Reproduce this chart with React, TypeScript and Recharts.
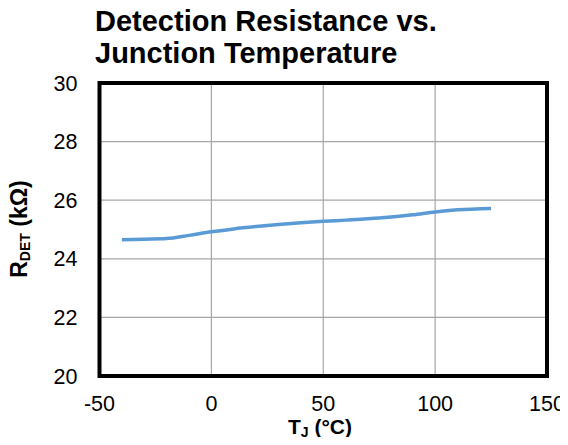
import React from 'react'
import {
  LineChart, Line, XAxis, YAxis, CartesianGrid, ReferenceArea,
} from 'recharts'

const temps = [-40, -30, -20, -10, 0, 10, 20, 30, 40, 50, 60, 75, 90, 100, 110, 125]
const rdet = [24.65, 24.67, 24.69, 24.8, 24.92, 25.02, 25.1, 25.17, 25.23, 25.28, 25.32, 25.39, 25.5, 25.6, 25.67, 25.72]
const xTicks = [-50, 0, 50, 100, 150]
const yTicks = [20, 22, 24, 26, 28, 30]

const data = temps.map((t, i) => ({ t, r: rdet[i] }))

const FONT = '"Liberation Sans", Arial, sans-serif'

function YLabel() {
  return (
    <text
      x={27}
      y={229}
      transform="rotate(-90, 27, 229)"
      textAnchor="middle"
      fontFamily={FONT}
      fontWeight="bold"
      fontSize={23}
      fill="#000"
    >
      R<tspan fontSize={14} dy={3}>DET</tspan>
      <tspan dy={-3}> (kΩ)</tspan>
    </text>
  )
}

function XLabel() {
  return (
    <text
      x={320}
      y={434}
      textAnchor="middle"
      fontFamily={FONT}
      fontWeight="bold"
      fontSize={21}
      fill="#000"
    >
      T<tspan fontSize={14} dy={3}>J</tspan>
      <tspan dy={-3}> (°C)</tspan>
    </text>
  )
}

export default function App() {
  return (
    <div style={{ position: 'relative', width: 568, height: 445, background: '#fff', margin: -8 }}>
      <div
        style={{
          position: 'absolute', left: 95, top: 6, fontFamily: FONT, fontWeight: 'bold',
          fontSize: 29, lineHeight: '31.6px', color: '#000', zIndex: 1, whiteSpace: 'nowrap',
        }}
      >
        Detection Resistance vs.<br />Junction Temperature
      </div>
      <LineChart width={568} height={445} data={data} margin={{ top: 83, right: 21, bottom: 39, left: 0 }}>
        <CartesianGrid stroke="#a6a6a6" strokeWidth={1.2} horizontalValues={yTicks} verticalValues={xTicks} />
        <XAxis
          dataKey="t"
          type="number"
          domain={[-50, 150]}
          ticks={xTicks}
          height={30}
          axisLine={false}
          tickLine={false}
          tickSize={0}
          tickMargin={20}
          tick={{ fill: '#000', fontSize: 21.5, fontFamily: FONT }}
          label={<XLabel />}
        />
        <YAxis
          type="number"
          domain={[20, 30]}
          ticks={yTicks}
          width={99.5}
          axisLine={false}
          tickLine={false}
          tickSize={0}
          tickMargin={22}
          tick={{ fill: '#000', fontSize: 21.5, fontFamily: FONT }}
          label={<YLabel />}
        />
        <ReferenceArea x1={-50} x2={150} y1={20} y2={30} fill="none" stroke="#000" strokeWidth={4} ifOverflow="visible" />
        <Line
          type="monotone"
          dataKey="r"
          stroke="#5b9bd5"
          strokeWidth={3.5}
          dot={false}
          isAnimationActive={false}
        />
      </LineChart>
    </div>
  )
}
